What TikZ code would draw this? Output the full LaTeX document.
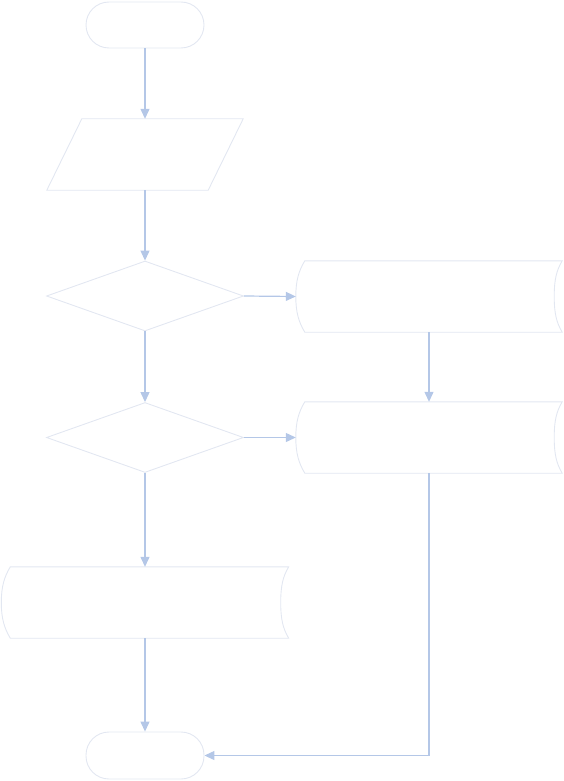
\documentclass[tikz,border=0pt]{standalone}
\usetikzlibrary{shapes.geometric,arrows.meta,calc}

\definecolor{outlinegray}{RGB}{226,231,241}
\definecolor{flowblue}{RGB}{180,199,231}

\tikzset{
  outline/.style={draw=outlinegray, line width=0.9pt},
  terminal/.style={outline, rectangle, rounded corners=23pt, minimum width=118pt, minimum height=46pt, inner sep=0pt},
  decision/.style={outline, diamond, minimum width=197pt, minimum height=70pt, inner sep=0pt},
  frame/.style={rectangle, draw=none, inner sep=0pt},
  flow/.style={draw=flowblue, line width=1.2pt, -{Triangle[length=10pt,width=9pt]}},
}

% outline of a "stored data" box around a frame node
\newcommand\drawstored[1]{%
  \draw[outline] ($(#1.north west)+(9,0)$) -- (#1.north east)
    .. controls ($(#1.north east)+(-6,10)$) and ($(#1.east)+(-8,-16)$) .. ($(#1.east)+(-8,0)$)
    .. controls ($(#1.east)+(-8,16)$) and ($(#1.south east)+(-6,-10)$) .. (#1.south east)
    -- ($(#1.south west)+(9,0)$)
    .. controls ($(#1.south west)+(3,-10)$) and ($(#1.west)+(0,16)$) .. (#1.west)
    .. controls ($(#1.west)+(0,-16)$) and ($(#1.north west)+(3,10)$) .. ($(#1.north west)+(9,0)$)
    -- cycle;}

\begin{document}
\begin{tikzpicture}[x=1pt,y=-1pt]
  \useasboundingbox (0,0) rectangle (564,781);

  % shapes
  \node[terminal] (start) at (145,25) {};
  \node[frame, minimum width=196pt, minimum height=71pt] (input) at (145,154.5) {};
  \draw[outline] ($(input.north west)+(35,0)$) -- (input.north east)
    -- ($(input.south east)+(-35,0)$) -- (input.south west) -- cycle;
  \node[decision] (dec1) at (145,296) {};
  \node[frame, minimum width=266pt, minimum height=71pt] (proc1) at (429,296.5) {};
  \drawstored{proc1}
  \node[decision] (dec2) at (145,437.5) {};
  \node[frame, minimum width=266pt, minimum height=71pt] (proc2) at (429,437.5) {};
  \drawstored{proc2}
  \node[frame, minimum width=287pt, minimum height=71pt] (proc3) at (145,602.5) {};
  \drawstored{proc3}
  \node[terminal, minimum height=47pt] (stop) at (145,755.5) {};

  % connectors
  \draw[flow] (start.south) -- (input.north);
  \draw[flow] (input.south) -- (dec1.north);
  \draw[flow] (dec1.east) -- (proc1.west);
  \draw[flow] (dec1.south) -- (dec2.north);
  \draw[flow] (dec2.east) -- (proc2.west);
  \draw[flow] (proc1.south) -- (proc2.north);
  \draw[flow] (dec2.south) -- (proc3.north);
  \draw[flow] (proc3.south) -- (stop.north);
  \draw[flow] (proc2.south) |- (stop.east);
\end{tikzpicture}
\end{document}
